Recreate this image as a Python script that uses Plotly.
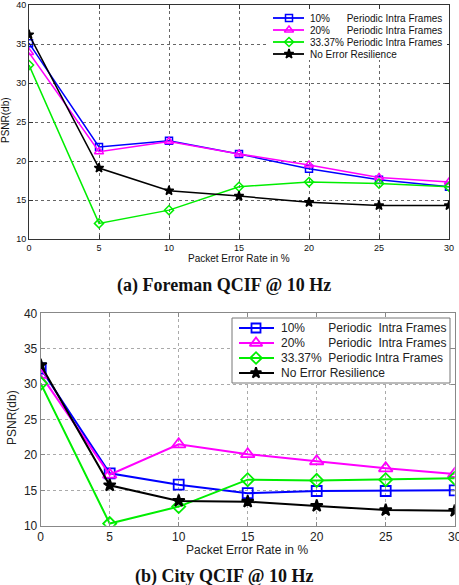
import plotly.graph_objects as go

# ---------------- data ----------------
packet_error_rate = [0, 5, 10, 15, 20, 25, 30]

# (a) Foreman QCIF @ 10 Hz
foreman_10 = [35.1, 21.8, 22.6, 20.9, 19.0, 17.6, 16.7]
foreman_20 = [33.9, 21.2, 22.5, 20.9, 19.5, 17.9, 17.3]
foreman_33 = [32.3, 12.0, 13.7, 16.7, 17.3, 17.1, 16.7]
foreman_none = [36.2, 19.1, 16.2, 15.5, 14.7, 14.3, 14.3]

# (b) City QCIF @ 10 Hz
city_10 = [32.2, 17.4, 15.8, 14.6, 14.9, 14.9, 15.0]
city_20 = [31.3, 17.2, 21.5, 20.1, 19.1, 18.1, 17.3]
city_33 = [30.1, 10.3, 12.7, 16.5, 16.4, 16.5, 16.7]
city_none = [32.7, 15.7, 13.5, 13.4, 12.8, 12.2, 12.1]

NB = "\u00a0"
labels_top = ["10%" + NB * 6 + "Periodic Intra Frames",
              "20%" + NB * 6 + "Periodic Intra Frames",
              "33.37% Periodic Intra Frames",
              "No Error Resilience"]
labels_bottom = ["10%" + NB * 7 + "Periodic" + NB * 2 + "Intra Frames",
                 "20%" + NB * 7 + "Periodic" + NB * 2 + "Intra Frames",
                 "33.37%" + NB * 2 + "Periodic Intra Frames",
                 "No Error Resilience"]
x_ticks = [0, 5, 10, 15, 20, 25, 30]
y_ticks = [10, 15, 20, 25, 30, 35, 40]

colors = ["#0000ff", "#ff00ff", "#00ee00", "#000000"]
symbols = ["square-open", "triangle-up-open", "diamond-open", "star"]

W, H = 459, 585
SANS = "Liberation Sans, Arial, sans-serif"
SERIF = "Liberation Serif, Times New Roman, serif"

def px_x(p):
    return p / W

def px_y(p):
    return 1 - p / H

fig = go.Figure()

top_series = [foreman_10, foreman_20, foreman_33, foreman_none]
bot_series = [city_10, city_20, city_33, city_none]
top_msize = [7, 8, 7, 7]
bot_msize = [10, 12, 10, 9]

for i, ys in enumerate(top_series):
    fig.add_trace(go.Scatter(
        x=packet_error_rate, y=ys, mode="lines+markers", xaxis="x", yaxis="y",
        line=dict(color=colors[i], width=1.5),
        marker=dict(symbol=symbols[i], size=top_msize[i], color=colors[i],
                    line=dict(color=colors[i], width=1.5)),
        showlegend=False, hoverinfo="skip"))

for i, ys in enumerate(bot_series):
    fig.add_trace(go.Scatter(
        x=packet_error_rate, y=ys, mode="lines+markers", xaxis="x2", yaxis="y2",
        line=dict(color=colors[i], width=2),
        marker=dict(symbol=symbols[i], size=bot_msize[i], color=colors[i],
                    line=dict(color=colors[i], width=1.8)),
        showlegend=False, hoverinfo="skip"))

# ---------------- manual legends on hidden pixel-unit axes ----------------
TL = dict(x0=268, x1=447, y0=10, y1=60)
top_rows = [18, 30, 42, 54]
for i in range(4):
    fig.add_trace(go.Scatter(
        x=[273, 289, 304], y=[top_rows[i]] * 3, mode="lines+markers",
        xaxis="x3", yaxis="y3",
        line=dict(color=colors[i], width=1.8),
        marker=dict(symbol=symbols[i], size=top_msize[i], color=colors[i],
                    opacity=[0, 1, 0], line=dict(color=colors[i], width=1.5)),
        showlegend=False, hoverinfo="skip"))

BL = dict(x0=232, x1=450, y0=318, y1=383)
bot_rows = [328, 343, 358, 373]
for i in range(4):
    fig.add_trace(go.Scatter(
        x=[239, 256, 274], y=[bot_rows[i]] * 3, mode="lines+markers",
        xaxis="x4", yaxis="y4",
        line=dict(color=colors[i], width=2),
        marker=dict(symbol=symbols[i], size=bot_msize[i] - 1, color=colors[i],
                    opacity=[0, 1, 0], line=dict(color=colors[i], width=1.8)),
        showlegend=False, hoverinfo="skip"))

annotations = []
for i in range(4):
    annotations.append(dict(x=308, y=top_rows[i], xref="x3", yref="y3",
                            text=labels_top[i], showarrow=False,
                            xanchor="left", yanchor="middle",
                            font=dict(family=SANS, size=10, color="#111")))
    annotations.append(dict(x=279, y=bot_rows[i], xref="x4", yref="y4",
                            text=labels_bottom[i], showarrow=False,
                            xanchor="left", yanchor="middle",
                            font=dict(family=SANS, size=12, color="#222")))

def paper_text(xp, yp, text, size, family, color, angle=0):
    return dict(x=px_x(xp), y=px_y(yp), xref="paper", yref="paper",
                text=text, showarrow=False, textangle=angle,
                xanchor="center", yanchor="middle",
                font=dict(family=family, size=size, color=color))

annotations += [
    paper_text(239, 258, "Packet Error Rate in %", 10, SANS, "#111"),
    paper_text(6, 120, "PSNR(db)", 10, SANS, "#111", -90),
    paper_text(247, 550, "Packet Error Rate in %", 12, SANS, "#222"),
    paper_text(12, 418, "PSNR(db)", 12, SANS, "#222", -90),
    paper_text(224, 285.5, "<b>(a) Foreman QCIF @ 10 Hz</b>", 18, SERIF, "#111"),
    paper_text(224, 576.5, "<b>(b) City QCIF @ 10 Hz</b>", 18, SERIF, "#111"),
]

shapes = [
    dict(type="rect", xref="x3", yref="y3", x0=TL["x0"], x1=TL["x1"],
         y0=TL["y0"], y1=TL["y1"], fillcolor="white", line=dict(width=0),
         layer="below"),
    dict(type="rect", xref="x4", yref="y4", x0=BL["x0"], x1=BL["x1"],
         y0=BL["y0"], y1=BL["y1"], fillcolor="white",
         line=dict(color="#777", width=1), layer="below"),
]

def main_axis(domain, rng, tickvals, anchor, linecolor, gridcolor, fsize, fcolor):
    return dict(domain=domain, range=rng, tickvals=tickvals, anchor=anchor,
                ticks="inside", ticklen=4, tickcolor=linecolor,
                showline=True, linecolor=linecolor, linewidth=1, mirror="ticks",
                showgrid=True, gridcolor=gridcolor, griddash="dot", gridwidth=1,
                zeroline=False, fixedrange=True, automargin=False,
                ticklabeloverflow="allow",
                tickfont=dict(family=SANS, size=fsize, color=fcolor))

fig.update_layout(
    width=W, height=H,
    margin=dict(l=0, r=0, t=0, b=0, pad=0, autoexpand=False),
    paper_bgcolor="white", plot_bgcolor="rgba(0,0,0,0)",
    showlegend=False,
    xaxis=main_axis([px_x(29), px_x(449)], [0, 30], x_ticks, "y", "#333", "#666", 9, "#111"),
    yaxis=main_axis([px_y(239), px_y(5)], [10, 40], y_ticks, "x", "#333", "#666", 9, "#111"),
    xaxis2=main_axis([px_x(40.7), px_x(454.7)], [0, 30], x_ticks, "y2", "#888", "#aaa", 12, "#222"),
    yaxis2=main_axis([px_y(525.7), px_y(313.3)], [10, 40], y_ticks, "x2", "#888", "#aaa", 12, "#222"),
    xaxis3=dict(domain=[0, 1], range=[0, W], anchor="y3", visible=False, fixedrange=True),
    yaxis3=dict(domain=[0, 1], range=[H, 0], anchor="x3", visible=False, fixedrange=True),
    xaxis4=dict(domain=[0, 1], range=[0, W], anchor="y4", visible=False, fixedrange=True),
    yaxis4=dict(domain=[0, 1], range=[H, 0], anchor="x4", visible=False, fixedrange=True),
    annotations=annotations,
    shapes=shapes,
)

fig.write_html("out.html")
